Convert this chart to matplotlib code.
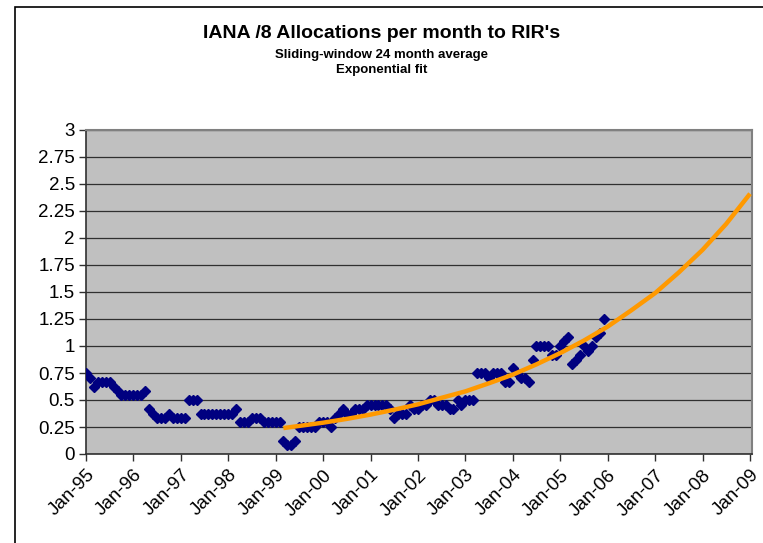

# IANA /8 allocations per month - 24 month sliding average with exponential fit
import numpy as np
import pandas as pd
import matplotlib
matplotlib.use("Agg")
import matplotlib.pyplot as plt
import matplotlib.dates as mdates
from matplotlib.patches import Rectangle

plt.rcParams['font.family'] = ['Liberation Sans', 'DejaVu Sans']

# monthly 24-month average, Jan-95 .. Dec-05
avg_start = "1995-01-01"
avg_values = [
    0.750, 0.708, 0.625, 0.667, 0.667, 0.667, 0.667, 0.625, 0.583, 0.542,
    0.542, 0.542, 0.542, 0.542, 0.542, 0.583, 0.417, 0.375, 0.333, 0.333,
    0.333, 0.375, 0.333, 0.333, 0.333, 0.333, 0.500, 0.500, 0.500, 0.375,
    0.375, 0.375, 0.375, 0.375, 0.375, 0.375, 0.375, 0.375, 0.417, 0.292,
    0.292, 0.292, 0.333, 0.333, 0.333, 0.292, 0.292, 0.292, 0.292, 0.292,
    0.125, 0.083, 0.083, 0.125, 0.250, 0.250, 0.250, 0.250, 0.250, 0.292,
    0.292, 0.292, 0.250, 0.333, 0.375, 0.417, 0.375, 0.375, 0.417, 0.417,
    0.417, 0.458, 0.458, 0.458, 0.458, 0.458, 0.458, 0.417, 0.333, 0.375,
    0.375, 0.375, 0.458, 0.417, 0.417, 0.458, 0.458, 0.500, 0.500, 0.458,
    0.458, 0.458, 0.417, 0.417, 0.500, 0.458, 0.500, 0.500, 0.500, 0.750,
    0.750, 0.750, 0.708, 0.750, 0.750, 0.750, 0.667, 0.667, 0.792, 0.750,
    0.708, 0.708, 0.667, 0.875, 1.000, 1.000, 1.000, 1.000, 0.917, 0.917,
    1.000, 1.042, 1.083, 0.833, 0.875, 0.917, 1.000, 0.958, 1.000, 1.083,
    1.125, 1.250,
]

# exponential fit line, read at half-year points
fit_dates = [
    "1999-03-01", "1999-07-01", "2000-01-01", "2000-07-01", "2001-01-01",
    "2001-07-01", "2002-01-01", "2002-07-01", "2003-01-01", "2003-07-01",
    "2004-01-01", "2004-07-01", "2005-01-01", "2005-07-01", "2006-01-01",
    "2006-07-01", "2007-01-01", "2007-07-01", "2008-01-01", "2008-07-01",
    "2009-01-01",
]
fit_values = [
    0.24, 0.26, 0.29, 0.325, 0.365, 0.41, 0.46, 0.52, 0.58, 0.655,
    0.735, 0.83, 0.935, 1.05, 1.18, 1.33, 1.49, 1.68, 1.89, 2.13,
    2.41,
]

y_ticks = [0, 0.25, 0.5, 0.75, 1, 1.25, 1.5, 1.75, 2, 2.25, 2.5, 2.75, 3]
y_tick_labels = ["0", "0.25", "0.5", "0.75", "1", "1.25", "1.5", "1.75",
                 "2", "2.25", "2.5", "2.75", "3"]
x_tick_years = list(range(1995, 2010))


def main():
    avg_dates = pd.date_range(avg_start, periods=len(avg_values), freq="MS")
    fit_x = pd.to_datetime(fit_dates)

    fig = plt.figure(figsize=(7.63, 5.43), dpi=100)
    fig.patch.set_facecolor("white")

    # outer chart frame (only left and top edges visible)
    fig.patches.append(Rectangle((15 / 763, -0.1), 1.2, 1.0 - 7 / 543 + 0.1,
                                 transform=fig.transFigure, fill=False,
                                 edgecolor="black", linewidth=1.2))

    ax = fig.add_axes([86 / 763, 1 - 454 / 543, (752 - 86) / 763, (454 - 130) / 543])
    ax.set_facecolor("#C0C0C0")

    ax.plot(avg_dates, avg_values, linestyle="none", marker="D",
            markersize=5, color="#000080", zorder=3)
    ax.plot(fit_x, fit_values, color="#FF9900", linewidth=3.2, zorder=4,
            solid_capstyle="butt")

    ax.set_ylim(0, 3)
    ax.set_yticks(y_ticks)
    ax.set_yticklabels(y_tick_labels)
    ax.yaxis.grid(True, color="#303030", linewidth=0.9)
    ax.set_axisbelow(True)

    x_ticks = [pd.Timestamp(year=y, month=1, day=1) for y in x_tick_years]
    ax.set_xlim(x_ticks[0], x_ticks[-1] + pd.Timedelta(days=15))
    ax.set_xticks(x_ticks)
    ax.xaxis.set_major_formatter(mdates.DateFormatter("%b-%y"))

    ax.tick_params(axis="both", direction="out", length=5, width=1,
                   color="#303030", labelsize=13.5)
    ax.tick_params(axis="y", pad=3)
    ax.tick_params(axis="x", pad=4)
    for lbl in ax.get_xticklabels():
        lbl.set_rotation(45)
        lbl.set_ha("right")
        lbl.set_rotation_mode("anchor")

    for side in ["left", "bottom"]:
        ax.spines[side].set_color("#303030")
        ax.spines[side].set_linewidth(1.2)
    for side in ["top", "right"]:
        ax.spines[side].set_color("#808080")
        ax.spines[side].set_linewidth(1.5)

    fig.text(0.5, 1 - 33 / 543, "IANA /8 Allocations per month to RIR's",
             ha="center", va="center", fontsize=14, fontweight="bold")
    fig.text(0.5, 1 - 55 / 543, "Sliding-window 24 month average",
             ha="center", va="center", fontsize=9.5, fontweight="bold")
    fig.text(0.5, 1 - 70 / 543, "Exponential fit",
             ha="center", va="center", fontsize=9.5, fontweight="bold")

    fig.savefig("out.png", dpi=100)


if __name__ == "__main__":
    main()
